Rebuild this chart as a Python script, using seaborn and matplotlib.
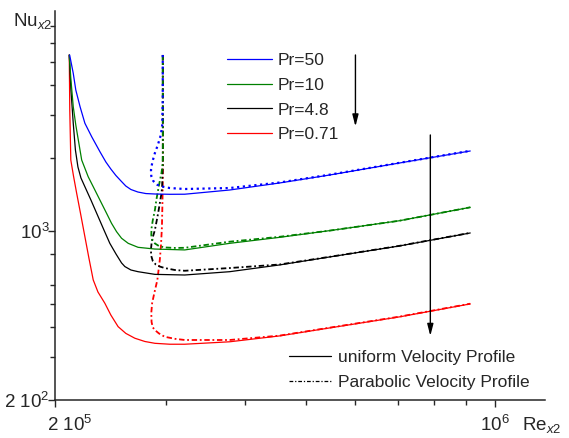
import matplotlib
matplotlib.use('Agg')
from matplotlib import pyplot as plt
from matplotlib.lines import Line2D
import matplotlib.ticker as mt
import matplotlib.transforms as mtr
import pandas as pd
import seaborn as sns

# Prandtl numbers, one colour each
prLabels = ['Pr=50', 'Pr=10', 'Pr=4.8', 'Pr=0.71']
prColors = ['#0000ff', '#008000', '#000000', '#ff0000']

# uniform velocity profile (solid lines)
uniRe50 = [2.11e5, 2.138e5, 2.158e5, 2.192e5, 2.231e5, 2.287e5, 2.357e5, 2.409e5, 2.453e5, 2.499e5,
           2.546e5, 2.591e5, 2.64e5, 2.708e5, 2.788e5, 2.882e5, 3.043e5, 3.214e5, 3.788e5, 4.546e5,
           5.458e5, 7.046e5, 9.13e5]
uniNu50 = [5330, 4478, 3820, 3258, 2784, 2450, 2124, 1925, 1801, 1693, 1607, 1532, 1482, 1447, 1426,
           1420, 1416, 1417, 1475, 1577, 1701, 1907, 2138]

uniRe10 = [2.107e5, 2.12e5, 2.138e5, 2.158e5, 2.178e5, 2.205e5, 2.258e5, 2.314e5, 2.371e5, 2.415e5,
           2.459e5, 2.505e5, 2.551e5, 2.614e5, 2.71e5, 2.882e5, 3.214e5, 3.788e5, 4.546e5, 5.458e5,
           7.046e5, 9.13e5]
uniNu10 = [5330, 4200, 3258, 2738, 2374, 1962, 1674, 1475, 1300, 1182, 1075, 992, 932, 888, 855, 841,
           834, 888, 940, 1002, 1101, 1251]

uniRe48 = [2.107e5, 2.12e5, 2.138e5, 2.155e5, 2.175e5, 2.199e5, 2.231e5, 2.281e5, 2.342e5, 2.392e5,
           2.444e5, 2.5e5, 2.551e5, 2.582e5, 2.64e5, 2.71e5, 2.882e5, 3.214e5, 3.788e5, 4.546e5,
           5.458e5, 7.046e5, 9.13e5]
uniNu48 = [5330, 3820, 2784, 2158, 1836, 1654, 1522, 1340, 1144, 1008, 888, 802, 737, 712, 689, 678,
           661, 657, 678, 723, 780, 866, 980]

uniRe071 = [2.107e5, 2.111e5, 2.119e5, 2.14e5, 2.165e5, 2.195e5, 2.231e5, 2.264e5, 2.30e5, 2.34e5,
            2.40e5, 2.453e5, 2.519e5, 2.591e5, 2.678e5, 2.778e5, 2.882e5, 3.043e5, 3.214e5, 3.788e5,
            4.546e5, 5.458e5, 7.046e5, 9.13e5]
uniNu071 = [5330, 3160, 1962, 1685, 1429, 1185, 946, 772, 627, 559, 502, 449, 402, 377, 360, 349, 343,
            340, 340, 348, 368, 397, 441, 499]

# parabolic velocity profile (dotted / dash-dot lines)
parRe50 = [2.966e5, 2.966e5, 2.96e5, 2.945e5, 2.913e5, 2.882e5, 2.855e5, 2.841e5, 2.844e5, 2.865e5,
           2.902e5, 2.955e5, 3.043e5, 3.214e5, 3.788e5, 4.546e5, 5.458e5, 7.046e5, 9.13e5]
parNu50 = [5330, 3476, 2738, 2490, 2263, 2098, 1925, 1784, 1685, 1607, 1554, 1525, 1503, 1489, 1503,
           1584, 1706, 1910, 2142]

parRe10 = [2.966e5, 2.968e5, 2.966e5, 2.952e5, 2.934e5, 2.916e5, 2.897e5, 2.882e5, 2.86e5, 2.847e5,
           2.844e5, 2.855e5, 2.882e5, 2.924e5, 2.987e5, 3.1e5, 3.214e5, 3.788e5, 4.546e5, 5.458e5,
           7.046e5, 9.13e5]
parNu10 = [5330, 2158, 1907, 1734, 1607, 1475, 1340, 1219, 1108, 1027, 961, 916, 887, 866, 854, 850,
           851, 902, 945, 1002, 1101, 1251]

parRe48 = [2.966e5, 2.966e5, 2.96e5, 2.952e5, 2.916e5, 2.882e5, 2.86e5, 2.847e5, 2.84e5, 2.844e5,
           2.86e5, 2.891e5, 2.934e5, 2.987e5, 3.1e5, 3.214e5, 3.788e5, 4.546e5, 5.458e5, 7.046e5, 9.13e5]
parNu48 = [5330, 1871, 1546, 1429, 1182, 1008, 943, 888, 834, 787, 750, 726, 712, 702, 689, 684, 702,
           726, 781, 867, 981]

parRe071 = [2.968e5, 2.968e5, 2.963e5, 2.957e5, 2.947e5, 2.934e5, 2.908e5, 2.876e5, 2.853e5, 2.844e5,
            2.847e5, 2.86e5, 2.882e5, 2.924e5, 2.987e5, 3.1e5, 3.214e5, 3.788e5, 4.546e5, 5.458e5,
            7.046e5, 9.13e5]
parNu071 = [5330, 1962, 1340, 1041, 874, 758, 627, 554, 503, 458, 420, 399, 389, 377, 365, 358, 354,
            354, 369, 398, 442, 500]

# axis ticks
xMajor = [2e5, 1e6]
xMajorLabels = ['2 10$^{5}$', '10$^{6}$']
xMinor = [3e5, 4e5, 5e5, 6e5, 7e5, 8e5, 9e5]
yMajor = [200, 1000]
yMajorLabels = ['2 10$^{2}$', '10$^{3}$']
yMinor = [300, 400, 500, 600, 800, 2000, 3000, 4000, 5000, 6000, 7000]

sns.set_style('ticks')
plt.rcParams['font.family'] = ['Liberation Sans', 'DejaVu Sans']
plt.rcParams['mathtext.fontset'] = 'custom'
plt.rcParams['mathtext.rm'] = 'Liberation Sans'
plt.rcParams['mathtext.it'] = 'Liberation Sans:italic'
plt.rcParams['mathtext.bf'] = 'Liberation Sans:bold'
fs = 12.5
tickFs = 13.5

fig = plt.figure(figsize=(5.69, 4.38), dpi=100)
ax = fig.add_axes([55 / 569, 38 / 438, 490 / 569, 389 / 438])

uniData = [(uniRe50, uniNu50), (uniRe10, uniNu10), (uniRe48, uniNu48), (uniRe071, uniNu071)]
parData = [(parRe50, parNu50), (parRe10, parNu10), (parRe48, parNu48), (parRe071, parNu071)]
dashDot = (0, (3, 1.5, 1, 1.5))

# parabolic curves first, then the uniform ones on top
for i in [3, 2, 1, 0]:
    df = pd.DataFrame({'Re': parData[i][0], 'Nu': parData[i][1]})
    ls = (0, (1, 1.6)) if i == 0 else dashDot
    lw = 1.6 if i == 0 else 1.3
    sns.lineplot(data=df, x='Re', y='Nu', sort=False, estimator=None, color=prColors[i],
                 linestyle=ls, lw=lw, ax=ax)
for i in [3, 2, 1, 0]:
    df = pd.DataFrame({'Re': uniData[i][0], 'Nu': uniData[i][1]})
    sns.lineplot(data=df, x='Re', y='Nu', sort=False, estimator=None, color=prColors[i],
                 lw=0.9, ax=ax)

ax.set_xscale('log')
ax.set_yscale('log')
ax.set_xlim(2e5, 1.2e6)
ax.set_ylim(200, 8100)

ax.xaxis.set_major_locator(mt.FixedLocator(xMajor))
ax.xaxis.set_major_formatter(mt.FixedFormatter(xMajorLabels))
ax.xaxis.set_minor_locator(mt.FixedLocator(xMinor))
ax.xaxis.set_minor_formatter(mt.NullFormatter())
ax.yaxis.set_major_locator(mt.FixedLocator(yMajor))
ax.yaxis.set_major_formatter(mt.FixedFormatter(yMajorLabels))
ax.yaxis.set_minor_locator(mt.FixedLocator(yMinor))
ax.yaxis.set_minor_formatter(mt.NullFormatter())

ax.tick_params(which='major', direction='out', length=5, width=1.0, labelsize=tickFs)
ax.tick_params(axis='y', which='major', pad=-1)
ax.tick_params(axis='x', which='major', pad=6)
ax.tick_params(which='minor', direction='out', length=3.3, width=1.0)
sns.despine(ax=ax)
for s in ['left', 'bottom']:
    ax.spines[s].set_linewidth(1.1)

# the "2 10^5" label sits a bit right of its tick
fig.canvas.draw()
lbl = ax.get_xticklabels()[0]
lbl.set_transform(lbl.get_transform() + mtr.ScaledTranslation(15 / 100, 0, fig.dpi_scale_trans))

ax.set_xlabel('Re$_{x2}$', fontsize=tickFs, va='center', ha='center')
ax.xaxis.set_label_coords(0.994, -0.064)
ax.set_ylabel('Nu$_{x2}$', fontsize=tickFs, rotation=0, va='center', ha='center')
ax.yaxis.set_label_coords(-0.045, 0.975)

# arrows showing decreasing Pr
arrowStyle = dict(arrowstyle='-|>,head_width=0.18,head_length=0.7', color='black', lw=1,
                  mutation_scale=10, shrinkA=0, shrinkB=0)
ax.annotate('', xy=(6.0e5, 2700), xytext=(6.0e5, 5330), arrowprops=arrowStyle)
ax.annotate('', xy=(7.89e5, 368), xytext=(7.89e5, 2490), arrowprops=arrowStyle)

# legends
prHandles = [Line2D([], [], color=c, lw=0.9) for c in prColors]
leg1 = ax.legend(prHandles, prLabels, loc='upper left', bbox_to_anchor=(227 / 569, 1 - 53 / 438),
                 bbox_transform=fig.transFigure, frameon=False, fontsize=fs, handlelength=2.6,
                 handletextpad=0.3, borderpad=0, borderaxespad=0, labelspacing=0.55)
ax.add_artist(leg1)
profHandles = [Line2D([], [], color='black', lw=0.9),
               Line2D([], [], color='black', lw=0.9, linestyle=dashDot)]
ax.legend(profHandles, ['uniform Velocity Profile', 'Parabolic Velocity Profile'], loc='upper left',
          bbox_to_anchor=(289 / 569, 1 - 350 / 438), bbox_transform=fig.transFigure, frameon=False,
          fontsize=fs, handlelength=2.4, handletextpad=0.45, borderpad=0, borderaxespad=0,
          labelspacing=0.55)

fig.savefig('out.png', dpi=100)
